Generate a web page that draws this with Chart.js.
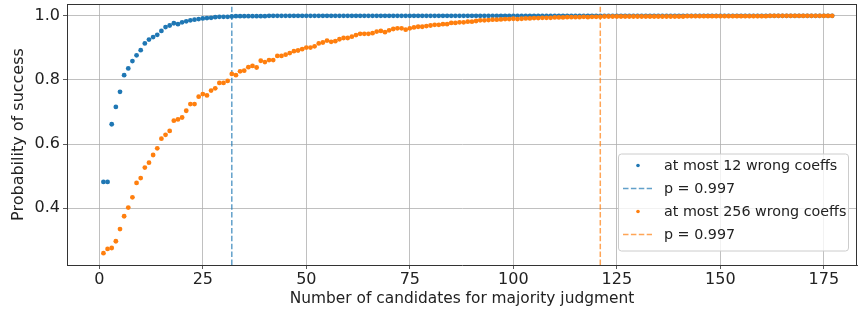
<!DOCTYPE html>
<html>
<head>
<meta charset="utf-8">
<script src="https://cdn.jsdelivr.net/npm/chart.js@4.4.0/dist/chart.umd.min.js"></script>
<style>
  html, body { margin: 0; padding: 0; background: #fff; overflow: hidden; }
</style>
</head>
<body>
<canvas id="chart" width="858" height="311"></canvas>
<script>
// probability of success vs number of candidates (x = 1, 2, 3 ...)
var seriesNames = ["at most 12 wrong coeffs", "at most 256 wrong coeffs"];
var cutLabel = "p = 0.997";
var cutoffs = [32, 121];

var wrong12 = [
  0.482, 0.482, 0.662, 0.716, 0.763, 0.815, 0.836, 0.859, 0.877, 0.893,
  0.914, 0.926, 0.934, 0.941, 0.953, 0.965, 0.970, 0.977, 0.974, 0.980,
  0.983, 0.986, 0.988, 0.990, 0.992, 0.993, 0.994, 0.996, 0.997, 0.997,
  0.997, 0.998, 0.999, 0.999, 0.999, 0.999, 0.999, 0.999, 0.999, 0.999,
  1.0, 1.0, 1.0, 1.0, 1.0, 1.0, 1.0, 1.0, 1.0, 1.0,
  1.0, 1.0, 1.0, 1.0, 1.0, 1.0, 1.0, 1.0, 1.0, 1.0,
  1.0, 1.0, 1.0, 1.0, 1.0, 1.0, 1.0, 1.0, 1.0, 1.0,
  1.0, 1.0, 1.0, 1.0, 1.0, 1.0, 1.0, 1.0, 1.0, 1.0,
  1.0, 1.0, 1.0, 1.0, 1.0, 1.0, 1.0, 1.0, 1.0, 1.0,
  1.0, 1.0, 1.0, 1.0, 1.0, 1.0, 1.0, 1.0, 1.0, 1.0,
  1.0, 1.0, 1.0, 1.0, 1.0, 1.0, 1.0, 1.0, 1.0, 1.0,
  1.0, 1.0, 1.0, 1.0, 1.0, 1.0, 1.0, 1.0, 1.0, 1.0,
  1.0, 1.0, 1.0, 1.0, 1.0, 1.0, 1.0, 1.0, 1.0, 1.0,
  1.0, 1.0, 1.0, 1.0, 1.0, 1.0, 1.0, 1.0, 1.0, 1.0,
  1.0, 1.0, 1.0, 1.0, 1.0, 1.0, 1.0, 1.0, 1.0, 1.0,
  1.0, 1.0, 1.0, 1.0, 1.0, 1.0, 1.0, 1.0, 1.0, 1.0,
  1.0, 1.0, 1.0, 1.0, 1.0, 1.0, 1.0, 1.0, 1.0, 1.0,
  1.0, 1.0, 1.0, 1.0, 1.0, 1.0, 1.0
];

var wrong256 = [
  0.260, 0.273, 0.276, 0.297, 0.335, 0.375, 0.402, 0.434, 0.479, 0.494,
  0.527, 0.542, 0.566, 0.587, 0.617, 0.629, 0.641, 0.673, 0.677, 0.683,
  0.704, 0.725, 0.725, 0.748, 0.756, 0.752, 0.767, 0.774, 0.791, 0.791,
  0.797, 0.819, 0.815, 0.827, 0.829, 0.840, 0.844, 0.839, 0.860, 0.856,
  0.862, 0.862, 0.875, 0.875, 0.879, 0.884, 0.890, 0.892, 0.896, 0.901,
  0.901, 0.905, 0.914, 0.917, 0.923, 0.919, 0.921, 0.927, 0.931, 0.931,
  0.935, 0.940, 0.944, 0.944, 0.944, 0.946, 0.951, 0.953, 0.949, 0.955,
  0.959, 0.961, 0.961, 0.957, 0.961, 0.964, 0.966, 0.966, 0.968, 0.970,
  0.972, 0.972, 0.974, 0.974, 0.978, 0.978, 0.980, 0.980, 0.982, 0.982,
  0.984, 0.986, 0.986, 0.987, 0.988, 0.988, 0.989, 0.990, 0.990, 0.991,
  0.990, 0.991, 0.992, 0.992, 0.993, 0.993, 0.994, 0.994, 0.994, 0.995,
  0.995, 0.995, 0.996, 0.996, 0.996, 0.996, 0.997, 0.996, 0.997, 0.997,
  0.997, 0.998, 0.998, 0.998, 0.998, 0.998, 0.998, 0.998, 0.998, 0.998,
  0.998, 0.998, 0.998, 0.998, 0.998, 0.998, 0.998, 0.998, 0.998, 0.998,
  0.998, 0.999, 0.999, 0.999, 0.999, 0.999, 0.999, 0.999, 0.999, 0.999,
  0.999, 0.999, 0.999, 0.999, 0.999, 0.999, 0.999, 0.999, 0.999, 0.999,
  0.999, 1.0, 1.0, 1.0, 1.0, 1.0, 1.0, 1.0, 1.0, 1.0,
  1.0, 1.0, 1.0, 1.0, 1.0, 1.0, 1.0
];

var xTicks = [0, 25, 50, 75, 100, 125, 150, 175];
var yTicks = [0.4, 0.6, 0.8, 1.0];
var xMin = -7.8, xMax = 183;
var yMin = 0.223, yMax = 1.037;

var blue = "#1f77b4";
var orange = "#ff7f0e";

function toPoints(vals) {
  var out = [];
  for (var i = 0; i < vals.length; i++) {
    out.push({x: i + 1, y: vals[i]});
  }
  return out;
}

// top and right spines (chart.js only draws the axis sides)
var framePlugin = {
  id: "frame",
  afterDraw: function(chart) {
    var c = chart.ctx, a = chart.chartArea;
    c.save();
    c.strokeStyle = "#333";
    c.lineWidth = 1;
    c.beginPath();
    c.moveTo(a.left, a.top + 0.5);
    c.lineTo(a.right, a.top + 0.5);
    c.moveTo(a.right - 0.5, a.top);
    c.lineTo(a.right - 0.5, a.bottom);
    c.stroke();
    c.restore();
  }
};

// matplotlib style legend box in the lower right corner
var legendPlugin = {
  id: "boxLegend",
  afterDraw: function(chart) {
    var c = chart.ctx, a = chart.chartArea;
    var w = 230, h = 97;
    var x0 = a.right - 9 - w, y0 = a.bottom - 14.5 - h;
    var rows = [
      {kind: "dot", color: blue, text: seriesNames[0]},
      {kind: "dash", color: "rgba(31,119,180,0.7)", text: cutLabel},
      {kind: "dot", color: orange, text: seriesNames[1]},
      {kind: "dash", color: "rgba(255,127,14,0.7)", text: cutLabel}
    ];
    c.save();
    c.fillStyle = "rgba(255,255,255,0.8)";
    c.strokeStyle = "#cccccc";
    c.lineWidth = 1;
    c.beginPath();
    c.roundRect(x0 + 0.5, y0 + 0.5, w, h, 3);
    c.fill();
    c.stroke();
    c.font = "14.3px 'DejaVu Sans'";
    c.textBaseline = "middle";
    for (var i = 0; i < rows.length; i++) {
      var cy = y0 + 12 + i * 23;
      var r = rows[i];
      if (r.kind == "dot") {
        c.fillStyle = r.color;
        c.beginPath();
        c.arc(x0 + 20, cy, 1.8, 0, Math.PI * 2);
        c.fill();
      } else {
        c.strokeStyle = r.color;
        c.lineWidth = 1.5;
        c.setLineDash([5.5, 2.4]);
        c.beginPath();
        c.moveTo(x0 + 5, cy);
        c.lineTo(x0 + 34, cy);
        c.stroke();
        c.setLineDash([]);
      }
      c.fillStyle = "#222";
      c.fillText(r.text, x0 + 46, cy + 1);
    }
    c.restore();
  }
};

var ctx = document.getElementById("chart").getContext("2d");

var chart = new Chart(ctx, {
  type: "scatter",
  data: {
    datasets: [
      {
        label: seriesNames[0],
        data: toPoints(wrong12),
        backgroundColor: blue,
        borderWidth: 0,
        pointRadius: 2.4,
        order: 4
      },
      {
        label: cutLabel,
        type: "line",
        data: [{x: cutoffs[0], y: yMin}, {x: cutoffs[0], y: yMax}],
        borderColor: "rgba(31,119,180,0.7)",
        borderWidth: 1.5,
        borderDash: [5.5, 2.4],
        pointRadius: 0,
        showLine: true,
        order: 3
      },
      {
        label: seriesNames[1],
        data: toPoints(wrong256),
        backgroundColor: orange,
        borderWidth: 0,
        pointRadius: 2.4,
        order: 2
      },
      {
        label: cutLabel,
        type: "line",
        data: [{x: cutoffs[1], y: yMin}, {x: cutoffs[1], y: yMax}],
        borderColor: "rgba(255,127,14,0.7)",
        borderWidth: 1.5,
        borderDash: [5.5, 2.4],
        pointRadius: 0,
        showLine: true,
        order: 1
      }
    ]
  },
  options: {
    responsive: false,
    animation: false,
    layout: { autoPadding: false, padding: { top: 4, right: 1, left: 0, bottom: 0 } },
    plugins: {
      legend: { display: false },
      tooltip: { enabled: false }
    },
    scales: {
      x: {
        type: "linear",
        min: xMin,
        max: xMax,
        afterBuildTicks: function(s) {
          s.ticks = xTicks.map(function(v) { return {value: v}; });
        },
        afterFit: function(s) {
          s.height = 46;
          s.paddingLeft = 0;
          s.paddingRight = 0;
        },
        ticks: {
          font: { family: "DejaVu Sans", size: 16 },
          color: "#222",
          padding: 1,
          maxRotation: 0,
          autoSkip: false
        },
        grid: { color: "#b0b0b0", lineWidth: 0.8, tickLength: 4, tickColor: "#333" },
        border: { display: true, color: "#333", width: 1 },
        title: {
          display: true,
          text: "Number of candidates for majority judgment",
          font: { family: "DejaVu Sans", size: 15.4 },
          color: "#222",
          padding: { top: 0, bottom: 3 }
        }
      },
      y: {
        type: "linear",
        min: yMin,
        max: yMax,
        afterBuildTicks: function(s) {
          s.ticks = yTicks.map(function(v) { return {value: v}; });
        },
        afterFit: function(s) {
          s.width = 67;
          s.paddingTop = 0;
          s.paddingBottom = 0;
        },
        ticks: {
          font: { family: "DejaVu Sans", size: 16 },
          color: "#222",
          padding: 3,
          callback: function(v) { return Number(v).toFixed(1); }
        },
        grid: { color: "#b0b0b0", lineWidth: 0.8, tickLength: 4, tickColor: "#333" },
        border: { display: true, color: "#333", width: 1 },
        title: {
          display: true,
          text: "Probability of success",
          font: { family: "DejaVu Sans", size: 16 },
          color: "#222",
          padding: { top: 9, bottom: 0 }
        }
      }
    }
  },
  plugins: [framePlugin, legendPlugin]
});
</script>
</body>
</html>
